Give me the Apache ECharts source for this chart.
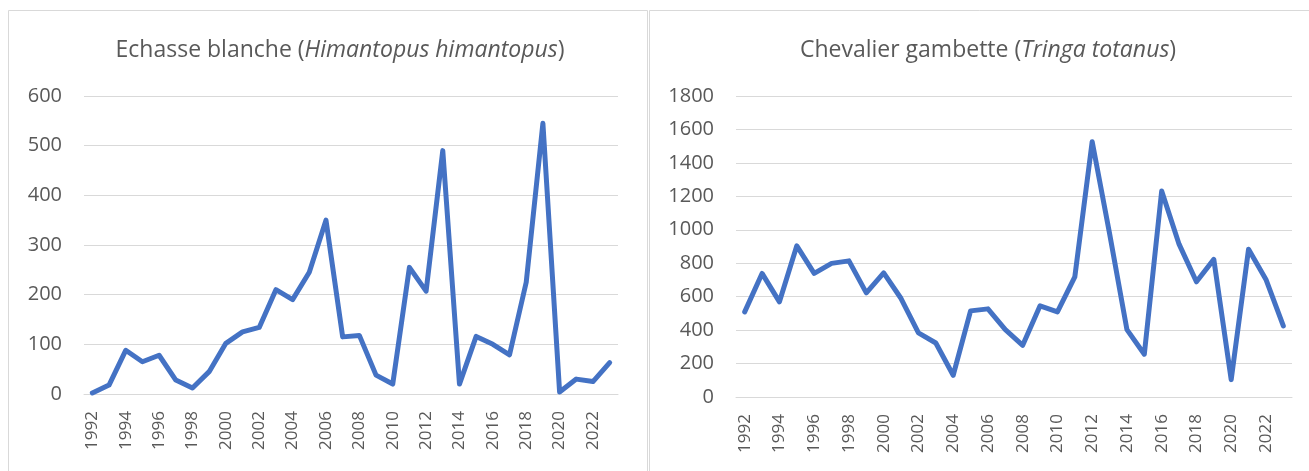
<!DOCTYPE html>
<html>
<head>
<meta charset="utf-8">
<script src="https://cdn.jsdelivr.net/npm/echarts@6/dist/echarts.min.js"></script>
<style>
  html, body { margin: 0; padding: 0; background: #fff; }
  #chart { width: 1309px; height: 471px; }
</style>
</head>
<body>
<div id="chart"></div>
<script>
// years on the category axis
var years = [];
for (var y = 1992; y <= 2023; y++) years.push(String(y));

// Echasse blanche (Himantopus himantopus)
var stiltValues = [2, 18, 88, 65, 78, 28, 12, 45, 102, 125, 134, 210, 190, 245, 350,
  115, 118, 38, 20, 255, 207, 490, 20, 116, 100, 79, 225, 545, 4, 30, 25, 63];

// Chevalier gambette (Tringa totanus)
var redshankValues = [509, 739, 569, 904, 739, 799, 814, 623, 742, 589, 383, 323, 130, 515,
  527, 403, 309, 545, 509, 718, 1527, 978, 403, 256, 1232, 914, 689, 823, 104, 884, 703, 425];

var txt = "#595959";
var gridCol = "#d9d9d9";
var font = "Open Sans";

function xAxisFor(idx) {
  return {
    type: "category",
    gridIndex: idx,
    data: years,
    boundaryGap: true,
    axisLine: { show: true, lineStyle: { color: gridCol, width: 1 } },
    axisTick: { show: false },
    axisLabel: {
      interval: 1,
      rotate: 90,
      margin: 17,
      color: txt,
      fontSize: 17,
      fontFamily: font
    }
  };
}

function yAxisFor(idx, max, step) {
  return {
    type: "value",
    gridIndex: idx,
    min: 0,
    max: max,
    interval: step,
    axisLine: { show: false },
    axisTick: { show: false },
    splitLine: { lineStyle: { color: gridCol, width: 1 } },
    axisLabel: {
      margin: 22,
      color: txt,
      fontSize: 20,
      fontFamily: font,
      formatter: function (v) { return String(v); }
    }
  };
}

function titleFor(name, latin, center) {
  return {
    text: "{n|" + name + " (}{i|" + latin + "}{n|)}",
    left: center,
    top: 34,
    textAlign: "center",
    textStyle: {
      rich: {
        n: { fontSize: 23, color: txt, fontFamily: font, fontWeight: "normal" },
        i: { fontSize: 23, color: txt, fontFamily: font, fontWeight: "normal", fontStyle: "italic" }
      }
    }
  };
}

var chart = echarts.init(document.getElementById("chart"));
chart.setOption({
  animation: false,
  backgroundColor: "#fff",
  graphic: [
    { type: "rect", shape: { x: 8.5, y: 10.5, width: 639, height: 480 },
      style: { fill: "none", stroke: gridCol, lineWidth: 1 }, silent: true },
    { type: "rect", shape: { x: 649.5, y: 10.5, width: 680, height: 480 },
      style: { fill: "none", stroke: gridCol, lineWidth: 1 }, silent: true }
  ],
  title: [
    titleFor("Echasse blanche", "Himantopus himantopus", 335),
    titleFor("Chevalier gambette", "Tringa totanus", 983)
  ],
  grid: [
    { left: 84, right: 691, top: 96, bottom: 77 },
    { left: 736, right: 17, top: 96, bottom: 74 }
  ],
  xAxis: [xAxisFor(0), xAxisFor(1)],
  yAxis: [yAxisFor(0, 600, 100), yAxisFor(1, 1800, 200)],
  series: [
    {
      name: "Echasse blanche",
      type: "line",
      xAxisIndex: 0,
      yAxisIndex: 0,
      data: stiltValues,
      showSymbol: false,
      lineStyle: { color: "#4472C4", width: 5, cap: "round", join: "round" }
    },
    {
      name: "Chevalier gambette",
      type: "line",
      xAxisIndex: 1,
      yAxisIndex: 1,
      data: redshankValues,
      showSymbol: false,
      lineStyle: { color: "#4472C4", width: 5, cap: "round", join: "round" }
    }
  ]
});
</script>
</body>
</html>
